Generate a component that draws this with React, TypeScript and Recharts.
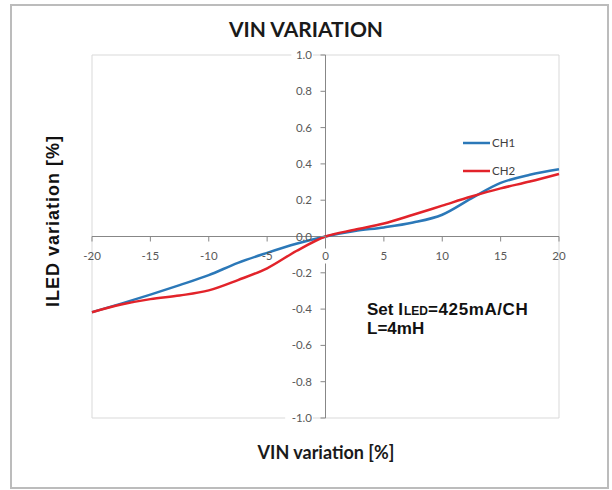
import React from 'react';
import { LineChart, Line, XAxis, YAxis, CartesianGrid, ReferenceLine, ReferenceDot } from 'recharts';

const X_VALUES = [-20, -17.5, -15, -12.5, -10, -7.5, -5, -2.5, 0, 2.5, 5, 7.5, 10, 12.5, 15, 17.5, 20];
const CH1 = [-0.417, -0.37, -0.32, -0.268, -0.213, -0.145, -0.09, -0.04, 0, 0.03, 0.05, 0.077, 0.12, 0.21, 0.295, 0.34, 0.37];
const CH2 = [-0.417, -0.375, -0.345, -0.325, -0.297, -0.24, -0.175, -0.08, 0, 0.037, 0.072, 0.12, 0.17, 0.22, 0.265, 0.303, 0.345];
const X_TICKS = [-20, -15, -10, -5, 0, 5, 10, 15, 20];
const Y_TICKS = [-1, -0.8, -0.6, -0.4, -0.2, 0, 0.2, 0.4, 0.6, 0.8, 1];
const SERIES_NAMES = ['CH1', 'CH2'];

const data = X_VALUES.map((x, i) => ({ x, ch1: CH1[i], ch2: CH2[i] }));

const BLUE = '#2b78b8';
const RED = '#e2232a';
const AXIS = '#878787';
const TICK_FONT = 'Lato, "Open Sans", sans-serif';
const TICK_COLOR = '#595959';
const ARIAL = '"Liberation Sans", Arial, sans-serif';

const XTickShape = (props: any) => {
  const { cx, cy, label, bg } = props;
  const w = label.length * 6.5 + 4;
  return (
    <g>
      <line x1={cx} y1={cy} x2={cx} y2={cy + 5} stroke={AXIS} strokeWidth={1} />
      {bg && <rect x={cx - w / 2} y={cy + 12} width={w} height={15} fill="#fff" />}
      <text x={cx} y={cy + 23.5} textAnchor="middle" fontFamily={TICK_FONT} fontSize={11.5} fill={TICK_COLOR}>
        {label}
      </text>
    </g>
  );
};

const YTickShape = (props: any) => {
  const { cx, cy, label, bg } = props;
  const w = label.length * 6.2 + 3;
  return (
    <g>
      <line x1={cx - 5} y1={cy} x2={cx} y2={cy} stroke={AXIS} strokeWidth={1} />
      {bg && <rect x={cx - 13.5 - w + 1} y={cy - 7} width={w} height={14} fill="#fff" />}
      <text x={cx - 13.5} y={cy + 4} textAnchor="end" fontFamily={TICK_FONT} fontSize={11.5} fill={TICK_COLOR}>
        {label}
      </text>
    </g>
  );
};

export default function App() {
  return (
    <div style={{ position: 'absolute', left: 0, top: 0, width: 612, height: 490, background: '#fff' }}>
      <LineChart width={612} height={490} data={data} margin={{ top: 55, right: 53, bottom: 72, left: 92 }}>
        <CartesianGrid stroke="#d9d9d9" strokeWidth={1} />
        <XAxis type="number" dataKey="x" domain={[-20, 20]} ticks={X_TICKS} height={0} axisLine={false} tickLine={false} tick={false} />
        <YAxis type="number" domain={[-1, 1]} ticks={Y_TICKS} width={0} axisLine={false} tickLine={false} tick={false} />
        <ReferenceLine x={0} stroke={AXIS} strokeWidth={1} />
        <ReferenceLine y={0} stroke={AXIS} strokeWidth={1} />
        {X_TICKS.map((v) => (
          <ReferenceDot
            key={'xt' + v}
            x={v}
            y={0}
            r={0}
            ifOverflow="visible"
            shape={(p: any) => <XTickShape cx={p.cx} cy={p.cy} label={String(v)} bg={v === 0} />}
          />
        ))}
        {Y_TICKS.map((v) => (
          <ReferenceDot
            key={'yt' + v}
            x={0}
            y={v}
            r={0}
            ifOverflow="visible"
            shape={(p: any) => <YTickShape cx={p.cx} cy={p.cy} label={v.toFixed(1)} bg={v > 0.1 || v < -0.3} />}
          />
        ))}
        <Line type="monotone" dataKey="ch1" name={SERIES_NAMES[0]} stroke={BLUE} strokeWidth={2.5} dot={false} isAnimationActive={false} />
        <Line type="monotone" dataKey="ch2" name={SERIES_NAMES[1]} stroke={RED} strokeWidth={2.5} dot={false} isAnimationActive={false} />
      </LineChart>
      <svg width={612} height={490} style={{ position: 'absolute', left: 0, top: 0, pointerEvents: 'none' }}>
        <rect x={11} y={5} width={597} height={483} fill="none" stroke="#bcbcbc" strokeWidth={2} />
        <text x={306} y={37} textAnchor="middle" fontFamily={TICK_FONT} fontWeight="bold" fontSize={21} fill="#1a1a1a">
          VIN VARIATION
        </text>
        <text
          x={53}
          y={227}
          transform="rotate(-90, 53, 221)"
          textAnchor="middle"
          fontFamily={ARIAL}
          fontWeight="bold"
          fontSize={18}
          letterSpacing={1}
          fill="#111"
        >
          ILED variation [%]
        </text>
        <text x={326} y={459} textAnchor="middle" fontFamily={TICK_FONT} fontWeight="bold" fontSize={18} fill="#1a1a1a">
          VIN variation [%]
        </text>
        <line x1={463} y1={143} x2={490} y2={143} stroke={BLUE} strokeWidth={2.5} />
        <text x={492} y={147} fontFamily={TICK_FONT} fontSize={11.5} fill="#404040">{SERIES_NAMES[0]}</text>
        <line x1={463} y1={171} x2={490} y2={171} stroke={RED} strokeWidth={2.5} />
        <text x={492} y={175} fontFamily={TICK_FONT} fontSize={11.5} fill="#404040">{SERIES_NAMES[1]}</text>
        <rect x={346} y={287} width={205} height={68} fill="#fff" />
        <text x={367} y={315} fontFamily={ARIAL} fontWeight="bold" fontSize={17} fill="#111">Set I</text>
        <text x={404} y={315} fontFamily={ARIAL} fontWeight="bold" fontSize={12} fill="#111">LED</text>
        <text x={428} y={315} fontFamily={ARIAL} fontWeight="bold" fontSize={17} letterSpacing={0.6} fill="#111">=425mA/CH</text>
        <text x={367} y={334} fontFamily={ARIAL} fontWeight="bold" fontSize={17} fill="#111">
          L=4mH
        </text>
      </svg>
    </div>
  );
}
